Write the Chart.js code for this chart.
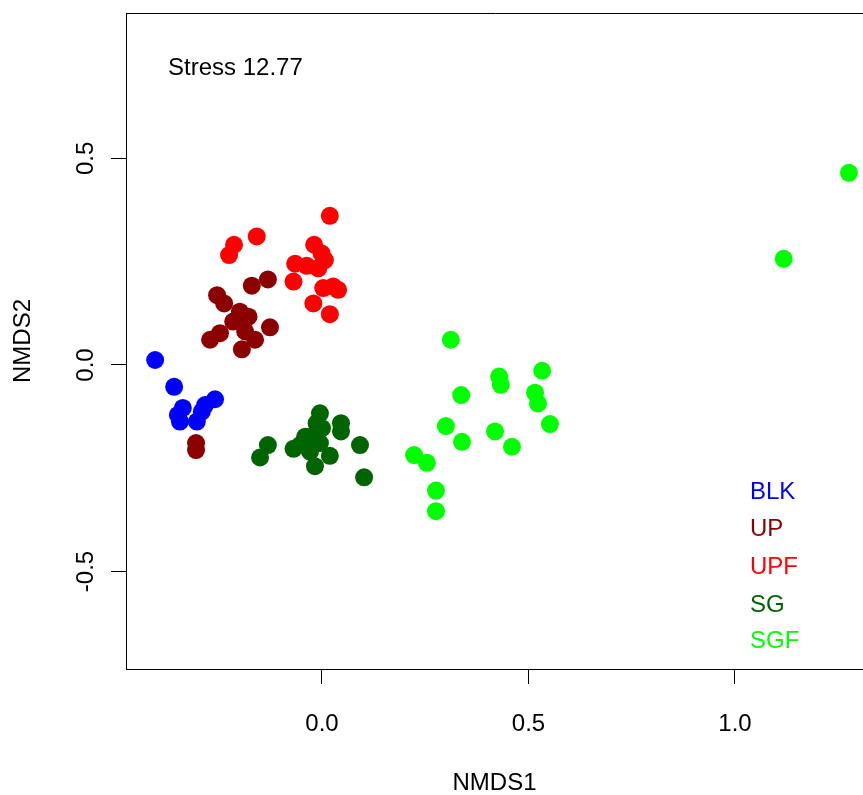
<!DOCTYPE html>
<html>
<head>
<meta charset="utf-8">
<script src="https://cdn.jsdelivr.net/npm/chart.js@4.4.0/dist/chart.umd.min.js"></script>
<style>
  html, body { margin: 0; padding: 0; background: #fff; }
  canvas { display: block; }
</style>
</head>
<body>
<canvas id="nmds" width="863" height="795"></canvas>
<script>
// coordenadas NMDS
const blkX = [-0.404, -0.358, -0.259, -0.283, -0.337, -0.349, -0.344, -0.303, -0.291];
const blkY = [0.012, -0.053, -0.083, -0.097, -0.104, -0.121, -0.137, -0.137, -0.113];

const upX = [-0.131, -0.170, -0.254, -0.237, -0.199, -0.178, -0.215, -0.126, -0.247, -0.271, -0.186, -0.162, -0.194, -0.305, -0.305];
const upY = [0.207, 0.192, 0.169, 0.149, 0.129, 0.117, 0.105, 0.091, 0.077, 0.061, 0.081, 0.061, 0.038, -0.189, -0.206];

const upfX = [0.019, -0.158, -0.213, -0.225, -0.019, -0.001, 0.007, -0.065, -0.037, -0.009, -0.069, 0.003, 0.027, 0.039, -0.021, 0.019];
const upfY = [0.361, 0.311, 0.291, 0.266, 0.291, 0.270, 0.254, 0.245, 0.240, 0.234, 0.202, 0.186, 0.190, 0.182, 0.149, 0.123];

const sgX = [-0.131, -0.150, -0.069, -0.005, 0.046, 0.046, -0.013, -0.029, -0.005, -0.029, 0.019, -0.017, 0.092, 0.102, -0.041, -0.053, 0.000];
const sgY = [-0.194, -0.224, -0.203, -0.117, -0.141, -0.161, -0.141, -0.174, -0.189, -0.210, -0.220, -0.245, -0.194, -0.272, -0.174, -0.194, -0.153];

const sgfX = [1.276, 1.118, 0.312, 0.429, 0.433, 0.533, 0.516, 0.523, 0.337, 0.552, 0.300, 0.339, 0.419, 0.460, 0.223, 0.254, 0.276, 0.276];
const sgfY = [0.465, 0.257, 0.061, -0.028, -0.048, -0.014, -0.067, -0.093, -0.073, -0.143, -0.148, -0.186, -0.161, -0.198, -0.218, -0.237, -0.304, -0.354];

const groups = ['BLK', 'UP', 'UPF', 'SG', 'SGF'];
const colores = ['#0000FF', '#8B0000', '#FF0000', '#006400', '#00FF00'];
const xTicks = [0, 0.5, 1.0];
const yTicks = [-0.5, 0, 0.5];
const stressText = 'Stress 12.77';

const FONT = '"Liberation Sans", Arial, sans-serif';

function pares(xs, ys) {
  return xs.map((x, i) => ({ x: x, y: ys[i] }));
}

const series = [pares(blkX, blkY), pares(upX, upY), pares(upfX, upfY), pares(sgX, sgY), pares(sgfX, sgfY)];

// sin relleno extra de Chart.js alrededor de los ejes
function fijar(s, tam) {
  if (s.isHorizontal()) s.height = tam; else s.width = tam;
  s.paddingLeft = 0; s.paddingRight = 0; s.paddingTop = 0; s.paddingBottom = 0;
}

// caja, texto de stress y leyenda al estilo R
const rPlot = {
  id: 'rPlot',
  afterDraw(chart) {
    const { ctx, chartArea: a } = chart;
    ctx.save();
    ctx.strokeStyle = '#000';
    ctx.lineWidth = 1;
    ctx.beginPath();
    ctx.moveTo(a.left + 0.5, a.bottom);
    ctx.lineTo(a.left + 0.5, a.top + 0.5);
    ctx.lineTo(a.right + 2, a.top + 0.5);
    ctx.stroke();

    ctx.font = '24px ' + FONT;
    ctx.textBaseline = 'middle';
    ctx.textAlign = 'left';
    ctx.fillStyle = '#000';
    ctx.fillText(stressText, 168, 68);

    const ys = [492, 529, 567, 605, 641];
    groups.forEach((g, i) => {
      ctx.fillStyle = colores[i];
      ctx.fillText(g, 750, ys[i]);
    });
    ctx.restore();
  }
};

new Chart(document.getElementById('nmds'), {
  type: 'scatter',
  data: {
    datasets: groups.map((g, i) => ({
      label: g,
      data: series[i],
      backgroundColor: colores[i],
      borderWidth: 0,
      pointRadius: 9,
      pointHoverRadius: 9
    }))
  },
  options: {
    responsive: false,
    animation: false,
    layout: { autoPadding: false, padding: { top: 13, right: 0, left: 0, bottom: 0 } },
    plugins: { legend: { display: false }, tooltip: { enabled: false } },
    scales: {
      x: {
        min: -0.4746, max: 1.310,
        afterBuildTicks: s => { s.ticks = xTicks.map(v => ({ value: v })); },
        afterFit: s => fijar(s, 126),
        grid: { drawOnChartArea: false, drawTicks: true, tickLength: 15, color: '#000' },
        border: { display: true, color: '#000', width: 1 },
        ticks: {
          color: '#000', font: { family: FONT, size: 24 }, padding: 26,
          maxRotation: 0, callback: v => Number(v).toFixed(1)
        },
        title: {
          display: true, text: 'NMDS1', color: '#000',
          font: { family: FONT, size: 24, lineHeight: 1 }, padding: { top: 0, bottom: 0 }
        }
      },
      y: {
        min: -0.736, max: 0.852,
        afterBuildTicks: s => { s.ticks = yTicks.map(v => ({ value: v })); },
        afterFit: s => fijar(s, 126),
        grid: { drawOnChartArea: false, drawTicks: true, tickLength: 15, color: '#000' },
        border: { display: true, color: '#000', width: 1 },
        ticks: {
          color: '#000', font: { family: FONT, size: 24 }, padding: 4,
          minRotation: 90, maxRotation: 90, crossAlign: 'center',
          callback: v => Number(v).toFixed(1)
        },
        title: {
          display: true, text: 'NMDS2', color: '#000',
          font: { family: FONT, size: 24, lineHeight: 1 }, padding: { top: 11, bottom: 0 }
        }
      }
    }
  },
  plugins: [rPlot]
});
</script>
</body>
</html>
